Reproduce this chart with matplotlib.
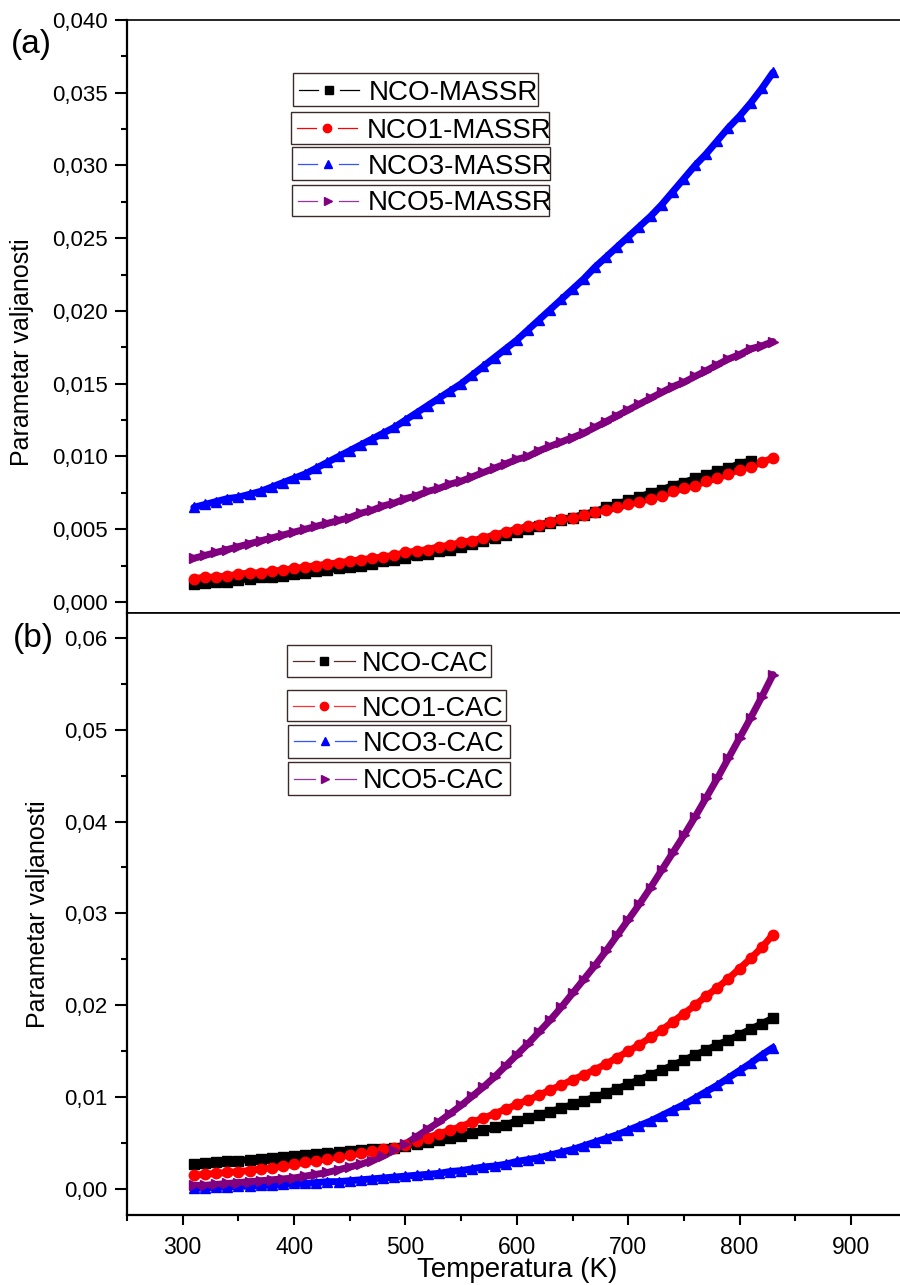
import numpy as np
import matplotlib
matplotlib.use("Agg")
import matplotlib.pyplot as plt
import matplotlib.ticker as ticker
from matplotlib.lines import Line2D
from matplotlib.patches import Rectangle

plt.rcParams["font.family"] = ["Liberation Sans", "DejaVu Sans"]

# temperature grid (K)
temp = [310, 320, 330, 340, 350, 360, 370, 380, 390, 400,
        410, 420, 430, 440, 450, 460, 470, 480, 490, 500,
        510, 520, 530, 540, 550, 560, 570, 580, 590, 600,
        610, 620, 630, 640, 650, 660, 670, 680, 690, 700,
        710, 720, 730, 740, 750, 760, 770, 780, 790, 800,
        810, 820, 830]

# (a) MASSR
nco_massr = [0.0012, 0.0013, 0.0014, 0.0014, 0.0015, 0.0016, 0.0017, 0.0017, 0.0018, 0.0019,
             0.0020, 0.0021, 0.0022, 0.0023, 0.0024, 0.0025, 0.0026, 0.0028, 0.0029, 0.0030,
             0.0032, 0.0033, 0.0035, 0.0036, 0.0038, 0.0040, 0.0042, 0.0044, 0.0046, 0.0048,
             0.0050, 0.0052, 0.0054, 0.0056, 0.0058, 0.0060, 0.0062, 0.0065, 0.0067, 0.0070,
             0.0072, 0.0075, 0.0077, 0.0080, 0.0082, 0.0085, 0.0087, 0.0090, 0.0092, 0.0095,
             0.0097]
nco1_massr = [0.0016, 0.0017, 0.0017, 0.0018, 0.0019, 0.0020, 0.0020, 0.0021, 0.0022, 0.0023,
              0.0024, 0.0025, 0.0026, 0.0027, 0.0028, 0.0029, 0.0030, 0.0031, 0.0032, 0.0034,
              0.0035, 0.0036, 0.0038, 0.0039, 0.0041, 0.0042, 0.0044, 0.0046, 0.0048, 0.0050,
              0.0052, 0.0053, 0.0055, 0.0057, 0.0058, 0.0060, 0.0062, 0.0063, 0.0065, 0.0067,
              0.0069, 0.0071, 0.0073, 0.0076, 0.0078, 0.0080, 0.0083, 0.0085, 0.0088, 0.0091,
              0.0093, 0.0096, 0.0099]
nco3_massr = [0.0065, 0.0067, 0.0069, 0.0071, 0.0072, 0.0074, 0.0076, 0.0079, 0.0082, 0.0085,
              0.0088, 0.0092, 0.0096, 0.0100, 0.0104, 0.0108, 0.0112, 0.0116, 0.0120, 0.0125,
              0.0130, 0.0135, 0.0140, 0.0145, 0.0150, 0.0156, 0.0162, 0.0168, 0.0174, 0.0180,
              0.0187, 0.0194, 0.0201, 0.0208, 0.0215, 0.0222, 0.0230, 0.0237, 0.0244, 0.0251,
              0.0258, 0.0265, 0.0273, 0.0282, 0.0291, 0.0300, 0.0308, 0.0317, 0.0326, 0.0334,
              0.0343, 0.0353, 0.0364]
nco5_massr = [0.0030, 0.0032, 0.0034, 0.0036, 0.0038, 0.0040, 0.0042, 0.0044, 0.0046, 0.0048,
              0.0050, 0.0052, 0.0054, 0.0056, 0.0058, 0.0061, 0.0063, 0.0066, 0.0068, 0.0071,
              0.0073, 0.0076, 0.0078, 0.0081, 0.0083, 0.0086, 0.0089, 0.0092, 0.0095, 0.0098,
              0.0100, 0.0104, 0.0107, 0.0110, 0.0113, 0.0116, 0.0120, 0.0124, 0.0128, 0.0132,
              0.0136, 0.0140, 0.0144, 0.0148, 0.0151, 0.0155, 0.0159, 0.0163, 0.0167, 0.0170,
              0.0174, 0.0176, 0.0179]

# (b) CAC
nco_cac = [0.0027, 0.0028, 0.0029, 0.0030, 0.0031, 0.0032, 0.0033, 0.0034, 0.0035, 0.0036,
           0.0037, 0.0038, 0.0039, 0.0040, 0.0041, 0.0042, 0.0043, 0.0044, 0.0045, 0.0047,
           0.0049, 0.0051, 0.0053, 0.0056, 0.0058, 0.0061, 0.0064, 0.0067, 0.0070, 0.0074,
           0.0077, 0.0081, 0.0084, 0.0088, 0.0092, 0.0096, 0.0100, 0.0104, 0.0109, 0.0114,
           0.0119, 0.0124, 0.0129, 0.0135, 0.0140, 0.0146, 0.0151, 0.0157, 0.0162, 0.0168,
           0.0174, 0.0180, 0.0186]
nco1_cac = [0.0015, 0.0016, 0.0017, 0.0018, 0.0019, 0.0020, 0.0022, 0.0023, 0.0025, 0.0027,
            0.0029, 0.0031, 0.0033, 0.0035, 0.0037, 0.0039, 0.0041, 0.0043, 0.0045, 0.0048,
            0.0052, 0.0056, 0.0060, 0.0064, 0.0068, 0.0073, 0.0077, 0.0082, 0.0087, 0.0092,
            0.0097, 0.0102, 0.0108, 0.0113, 0.0119, 0.0124, 0.0130, 0.0136, 0.0143, 0.0150,
            0.0157, 0.0165, 0.0173, 0.0182, 0.0191, 0.0200, 0.0210, 0.0219, 0.0229, 0.0240,
            0.0251, 0.0263, 0.0277]
nco3_cac = [0.0001, 0.0001, 0.0002, 0.0002, 0.0003, 0.0003, 0.0004, 0.0004, 0.0005, 0.0006,
            0.0006, 0.0007, 0.0008, 0.0008, 0.0009, 0.0010, 0.0011, 0.0012, 0.0013, 0.0014,
            0.0015, 0.0016, 0.0017, 0.0019, 0.0020, 0.0022, 0.0024, 0.0025, 0.0027, 0.0030,
            0.0032, 0.0034, 0.0037, 0.0040, 0.0043, 0.0047, 0.0051, 0.0055, 0.0059, 0.0064,
            0.0069, 0.0074, 0.0080, 0.0086, 0.0092, 0.0099, 0.0106, 0.0113, 0.0121, 0.0129,
            0.0137, 0.0146, 0.0154]
nco5_cac = [0.0004, 0.0004, 0.0005, 0.0006, 0.0007, 0.0008, 0.0009, 0.0010, 0.0011, 0.0012,
            0.0014, 0.0016, 0.0018, 0.0021, 0.0024, 0.0027, 0.0031, 0.0036, 0.0042, 0.0049,
            0.0057, 0.0065, 0.0073, 0.0082, 0.0091, 0.0101, 0.0111, 0.0122, 0.0134, 0.0146,
            0.0158, 0.0171, 0.0184, 0.0198, 0.0213, 0.0228, 0.0243, 0.0259, 0.0276, 0.0293,
            0.0310, 0.0328, 0.0347, 0.0366, 0.0385, 0.0405, 0.0426, 0.0447, 0.0469, 0.0491,
            0.0513, 0.0536, 0.0560]

labels_a = ["NCO-MASSR", "NCO1-MASSR", "NCO3-MASSR", "NCO5-MASSR"]
labels_b = ["NCO-CAC", "NCO1-CAC", "NCO3-CAC", "NCO5-CAC"]
colors = ["#000000", "#ff0000", "#0000ff", "#800080"]
markers = ["s", "o", "^", ">"]

W, H = 900, 1285


def fx(px):
    return px / W


def fy(py):
    return 1 - py / H


fig = plt.figure(figsize=(9, 12.85), dpi=100)
ax_a = fig.add_axes([fx(127), fy(613), 1 - fx(127), fy(20) - fy(613)])
ax_b = fig.add_axes([fx(127), fy(1215), 1 - fx(127), fy(613) - fy(1215)])


def draw_series(ax, series):
    for ys, c, m in zip(series, colors, markers):
        xs = temp[:len(ys)]
        ax.plot(xs, ys, color=c, lw=5, solid_capstyle="round", zorder=2)
        ax.plot(xs, ys, ls="none", marker=m, ms=7.5, color=c, mec=c, zorder=3)


draw_series(ax_a, [nco_massr, nco1_massr, nco3_massr, nco5_massr])
draw_series(ax_b, [nco_cac, nco1_cac, nco3_cac, nco5_cac])


def style_axis(ax, ymin, ymax, major, minor, fmt):
    ax.set_xlim(250, 944)
    ax.set_ylim(ymin, ymax)
    ax.spines["right"].set_visible(False)
    ax.spines["left"].set_linewidth(1.6)
    ax.spines["top"].set_linewidth(1.2)
    ax.spines["bottom"].set_linewidth(1.2)
    ax.yaxis.set_major_locator(ticker.MultipleLocator(major))
    ax.yaxis.set_minor_locator(ticker.MultipleLocator(minor))
    ax.yaxis.set_major_formatter(ticker.FuncFormatter(lambda v, p: fmt.format(v).replace(".", ",")))
    ax.tick_params(axis="y", which="major", direction="out", length=8.5, width=1.5,
                   labelsize=16, pad=5.5)
    ax.tick_params(axis="y", which="minor", direction="out", length=4, width=1.5)
    ax.set_ylabel("Parametar valjanosti", fontsize=18)


style_axis(ax_a, -0.00076, 0.040, 0.005, 0.0025, "{:.3f}")
style_axis(ax_b, -0.00283, 0.0627, 0.01, 0.005, "{:.2f}")

ax_a.tick_params(axis="x", which="both", bottom=False, labelbottom=False)
ax_b.spines["bottom"].set_linewidth(1.6)
ax_b.xaxis.set_major_locator(ticker.MultipleLocator(100))
ax_b.xaxis.set_minor_locator(ticker.MultipleLocator(50))
ax_b.tick_params(axis="x", which="major", direction="out", length=7, width=1.5,
                 labelsize=16.5, pad=8)
ax_b.tick_params(axis="x", which="minor", direction="out", length=4.5, width=1.5)
ax_b.set_xlabel("Temperatura (K)", fontsize=20)
ax_b.xaxis.set_label_coords(0.505, -0.07)

ax_a.yaxis.set_label_coords(-0.12, 0.44)
ax_b.yaxis.set_label_coords(-0.10, 0.50)

fig.text(fx(11), fy(45), "(a)", fontsize=24, va="center", ha="left")
fig.text(fx(13), fy(638), "(b)", fontsize=24, va="center", ha="left")

# one framed box per entry, as in the original: (left, top, right, bottom) in px
box_a = [(293, 73, 538, 106), (291, 112, 549, 144), (292, 147, 550, 180), (292, 185, 549, 216)]
box_b = [(287, 645, 491, 677), (287, 690, 506, 721), (288, 725, 510, 758), (288, 762, 510, 795)]


def add_boxes(labels, boxes, line_colors, seg_len, gap, text_off, fs):
    for lab, c, lc, m, (l, t, r, b) in zip(labels, colors, line_colors, markers, boxes):
        fig.patches.append(Rectangle((fx(l), fy(b)), fx(r) - fx(l), fy(t) - fy(b),
                                     transform=fig.transFigure, fill=True, fc="white",
                                     ec="#3b2a2a", lw=1.0, zorder=5))
        yc = fy((t + b) / 2)
        x0 = l + 6
        xm = x0 + seg_len + gap
        x2 = xm + gap
        for xa, xb in [(x0, x0 + seg_len), (x2, x2 + seg_len)]:
            fig.lines.append(Line2D([fx(xa), fx(xb)], [yc, yc], transform=fig.transFigure,
                                    color=lc, lw=0.9, zorder=6))
        fig.lines.append(Line2D([fx(xm)], [yc], transform=fig.transFigure, ls="none",
                                marker=m, ms=6, color=c, mec=c, zorder=7))
        fig.text(fx(l + text_off), yc, lab, fontsize=fs, va="center_baseline", ha="left",
                 zorder=8)


add_boxes(labels_a, box_a, ["#000000", "#ff0000", "#3355ff", "#9933a0"], 19, 11, 76, 20)
add_boxes(labels_b, box_b, ["#5b2c2c", "#ff3333", "#3355ff", "#9933a0"], 21, 10, 75, 19.5)

fig.savefig("out.png", dpi=100)
